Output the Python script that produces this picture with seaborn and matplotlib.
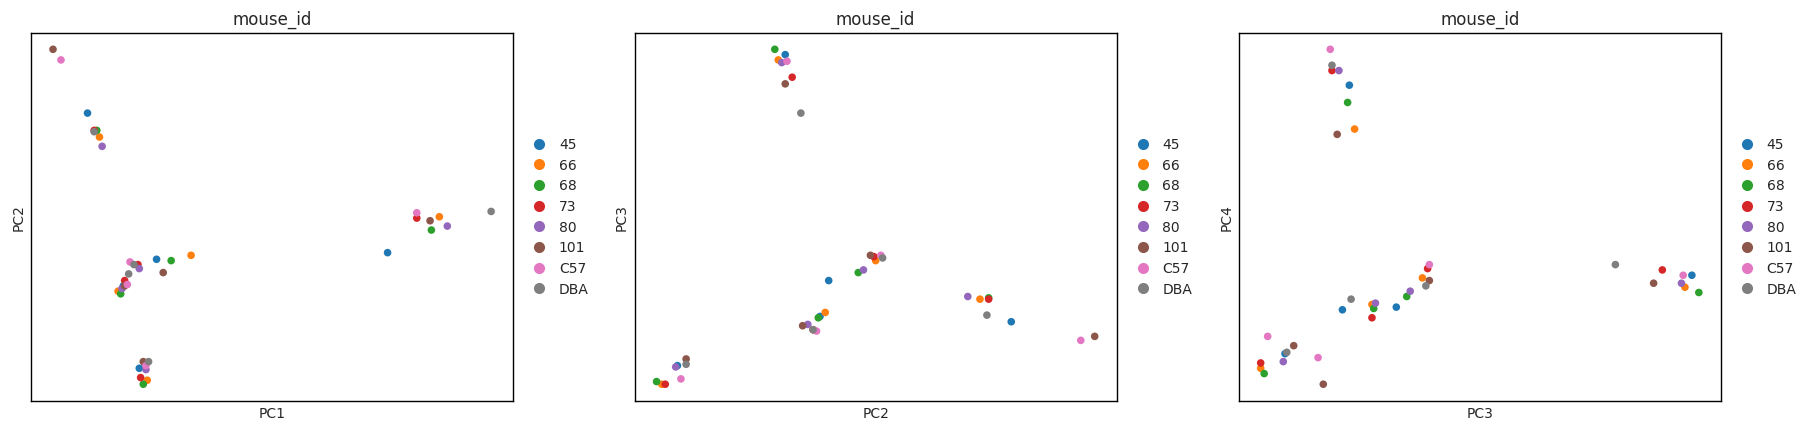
import numpy as np
import pandas as pd
from matplotlib import pyplot as plt
import seaborn as sns

sns.set_style('white')
plt.rcParams['font.family'] = ['DejaVu Sans']

# mouse ids, 5 samples each (same order in every PC array)
MICE = ['45', '66', '68', '73', '80', '101', 'C57', 'DBA']

pc1 = [-13.3, -8.1, -10.6, 9.3, -9.4,
       -12.4, -5.5, -11.0, 13.2, -8.8,
       -12.6, -7.0, -10.8, 12.6, -9.1,
       -12.8, -9.5, -10.5, 11.5, -9.3,
       -12.2, -9.4, -10.7, 13.8, -8.9,
       -15.9, -7.6, -10.5, 12.5, -9.1,
       -15.3, -10.1, -10.3, 11.5, -8.9,
       -12.8, -9.8, -10.2, 17.1, -8.7]
pc2 = [8.8, -2.2, -4.2, -1.7, -10.4,
       7.0, -1.9, -4.6, 1.0, -11.3,
       7.5, -2.3, -4.8, 0.0, -11.6,
       7.5, -2.6, -3.8, 0.9, -11.1,
       6.3, -2.9, -4.4, 0.3, -10.5,
       13.6, -3.2, -4.2, 0.7, -9.9,
       12.8, -2.4, -4.1, 1.3, -10.2,
       7.4, -2.6, -3.3, 1.4, -9.9]
pc3 = [-6.9, -6.5, 13.2, -3.8, -10.2,
       -5.2, -6.2, 12.8, -2.3, -11.6,
       -5.1, -6.6, 13.6, -3.2, -11.4,
       -5.2, -7.5, 11.5, -2.0, -11.6,
       -5.0, -7.1, 12.6, -3.0, -10.3,
       -8.0, -7.2, 11.0, -1.9, -9.7,
       -8.3, -7.6, 12.7, -1.9, -11.2,
       -6.4, -7.5, 8.8, -2.1, -10.1]
pc4 = [-6.0, 10.9, -3.4, -5.8, -9.3,
       -5.6, 7.6, -4.3, -3.6, -10.4,
       -5.9, 9.6, -4.7, -5.0, -10.8,
       -6.6, 12.0, -3.0, -2.9, -10.0,
       -5.5, 12.0, -4.0, -4.6, -9.9,
       -11.6, 7.2, -4.0, -3.8, -8.7,
       -9.6, 13.6, -3.4, -2.6, -8.0,
       -5.2, 12.4, -2.6, -4.2, -9.2]

df = pd.DataFrame({'PC1': pc1, 'PC2': pc2, 'PC3': pc3, 'PC4': pc4,
                   'mouse_id': np.repeat(MICE, 5)})
df['mouse_id'] = pd.Categorical(df['mouse_id'], categories=MICE)
palette = dict(zip(MICE, sns.color_palette('tab10', 8)))

fig = plt.figure(figsize=(18.18, 4.315), dpi=100)
lefts = [0.0171, 0.3491, 0.6814]
pairs = [('PC1', 'PC2'), ('PC2', 'PC3'), ('PC3', 'PC4')]

for left, (xc, yc) in zip(lefts, pairs):
    ax = fig.add_axes([left, 0.0696, 0.2651, 0.8538])
    sns.scatterplot(ax=ax, data=df, x=xc, y=yc, hue='mouse_id', palette=palette,
                    s=30, linewidth=0, legend=False)
    ax.set_xticks([])
    ax.set_yticks([])
    ax.set_xlabel(xc, fontsize=10)
    ax.set_ylabel(yc, fontsize=10)
    ax.set_title('mouse_id', fontsize=12)
    for sp in ax.spines.values():
        sp.set_color('black')
        sp.set_linewidth(1)
    handles = [plt.Line2D([], [], marker='o', linestyle='', color=palette[m],
                          markersize=8, markeredgewidth=0) for m in MICE]
    ax.legend(handles, MICE, frameon=False, loc='center left',
              bbox_to_anchor=(1, 0.5), fontsize=10, handletextpad=0.4,
              labelspacing=0.48)

fig.savefig('out.png', dpi=100)
